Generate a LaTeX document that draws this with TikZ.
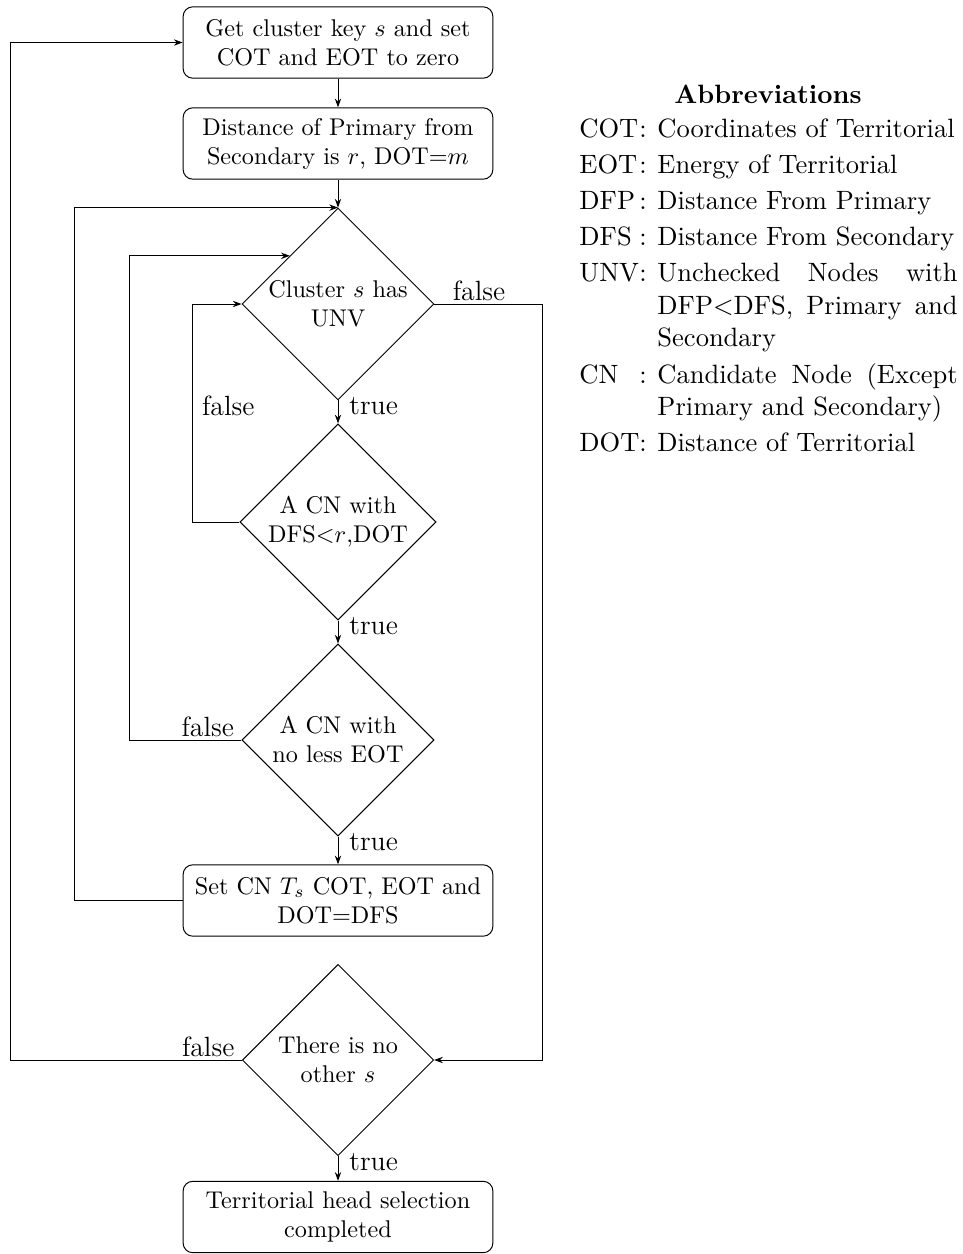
\documentclass[tikz,border=0pt]{standalone}
\usetikzlibrary{shapes.geometric,arrows.meta,calc}
\begin{document}
\begin{tikzpicture}[x=0.41322pt,y=-0.41322pt,
  line width=0.4pt,
  >={Stealth[length=3.6pt,width=2.6pt]},
  proc/.style={draw, rounded corners=4pt, align=center, text width=122pt,
    minimum width=128pt, minimum height=29.5pt, inner sep=3pt,
    font=\fontsize{10}{12}\selectfont},
  test/.style={draw, diamond, shape aspect=1, align=center, text width=59pt,
    inner sep=0.25pt, font=\fontsize{10}{12}\selectfont},
  lbl/.style={inner sep=0pt, font=\fontsize{11.5}{14}\selectfont},
  abbrfont/.style={font=\fontsize{10.95}{13.6}\selectfont},
]
\useasboundingbox (0,0) rectangle (963,1254);

% main flow
\node[proc] (b1) at (338,42.5) {Get cluster key $s$ and set\\COT and EOT to zero};
\node[proc] (b2) at (338,143.5) {Distance of Primary from\\Secondary is $r$, DOT=$m$};
\node[test] (d1) at (338,304) {Cluster $s$ has\\UNV};
\node[test] (d2) at (338,522) {A CN with\\DFS$<$$r$,DOT};
\node[test] (d3) at (338,740) {A CN with\\no less EOT};
\node[proc] (b3) at (338,900.5) {Set CN $T_s$ COT, EOT and\\DOT=DFS};
\node[test] (d4) at (338,1060) {There is no\\other $s$};
\node[proc] (b4) at (338,1217) {Territorial head selection\\completed};

% straight arrows
\draw[->] (b1) -- (b2);
\draw[->] (b2) -- (d1);
\draw[->] (d1) -- (d2);
\draw[->] (d2) -- (d3);
\draw[->] (d3) -- (b3);
\draw[->] (d4) -- (b4);

% loops back
\draw[->] (d2.west) -- ++(-47,0) |- (d1.west);
\draw[->] (d3.west) -- ++(-112,0) |- (d1.north west);
\draw[->] (b3.west) -- ++(-108,0) |- (d1.north);
\draw[->] (d4.west) -- ++(-231,0) |- (b1.west);
\draw[->] (d1.east) -- ++(108,0) |- (d4.east);

% branch labels
\node[lbl, anchor=base west] (t1) at ($(d1.south)+(11,14)$) {true};
\node[lbl, anchor=base west] (t2) at ($(d2.south)+(11,14)$) {true};
\node[lbl, anchor=base west] (t3) at ($(d3.south)+(11,14)$) {true};
\node[lbl, anchor=base west] (t4) at ($(d4.south)+(11,14)$) {true};
\node[lbl, anchor=base west] (f1) at ($(d1.east)+(18,-4)$) {false};
\node[lbl, anchor=base west] (f2) at ($(d1.west)+(-40,111)$) {false};
\node[lbl, anchor=base east] (f3) at ($(d3.west)+(-7,-4)$) {false};
\node[lbl, anchor=base east] (f4) at ($(d4.west)+(-7,-4)$) {false};

% abbreviations
\node[abbrfont, anchor=base, inner sep=0pt] (abbrtitle) at (768,103) {\bfseries Abbreviations};
\node[abbrfont, anchor=base west, inner sep=0pt] (abbr) at (579,137) {%
  \renewcommand{\arraystretch}{1.095}\hyphenpenalty=10000
  \begin{tabular}[t]{@{}l@{:\hspace{4.4pt}}p{124pt}@{}}
  COT & Coordinates of Territorial\\
  EOT & Energy of Territorial\\
  DFP & Distance From Primary\\
  DFS & Distance From Secondary\\
  UNV & Unchecked Nodes with\linebreak DFP$<$DFS, Primary and Secondary\\
  CN & Candidate Node (Except\linebreak Primary and Secondary)\\
  DOT & Distance of Territorial
  \end{tabular}};
\end{tikzpicture}
\end{document}
